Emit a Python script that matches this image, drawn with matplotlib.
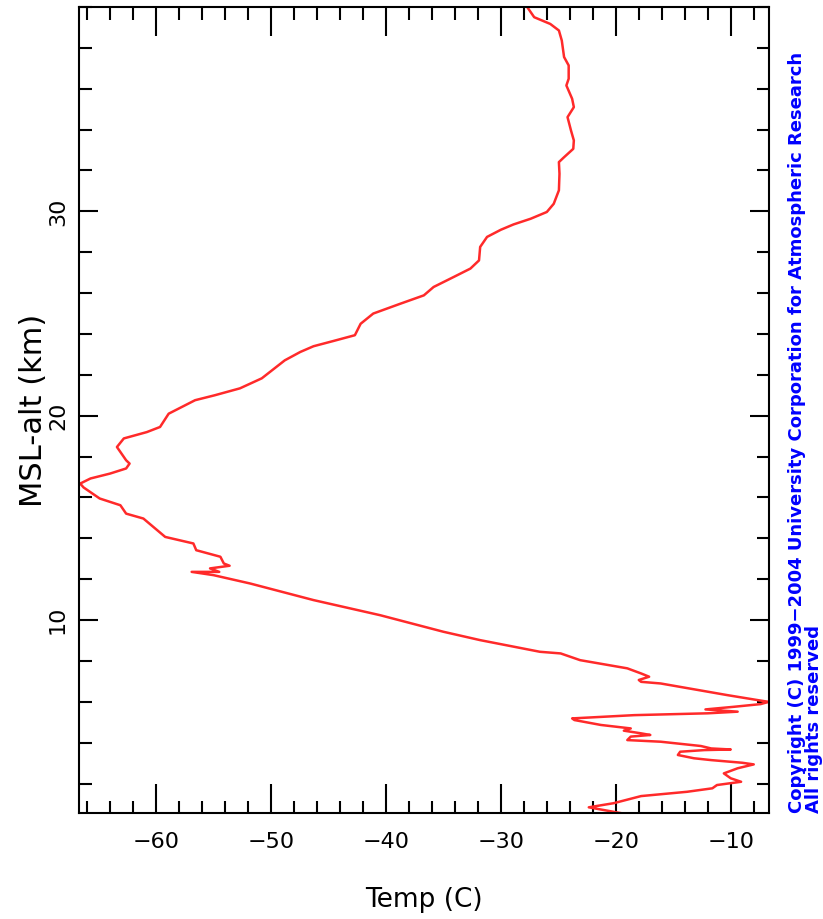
import matplotlib.pyplot as plt
from matplotlib.ticker import MultipleLocator, FixedLocator, FuncFormatter

# sounding profile, surface upward
alt_km = [0.56, 0.84, 0.92, 1.04, 1.39, 1.60, 1.77, 1.93, 2.09, 2.26, 2.50, 2.75,
          2.94, 3.02, 3.15, 3.24, 3.40, 3.56, 3.64, 3.67, 3.72, 3.84, 4.05, 4.13,
          4.30, 4.38, 4.46, 4.59, 4.70, 4.87, 5.11, 5.19, 5.35, 5.44, 5.52, 5.63,
          5.76, 5.89, 6.00, 6.09, 6.33, 6.90, 6.98, 7.07, 7.23, 7.39, 7.64, 8.04,
          8.37, 8.45, 9.02, 9.43, 10.24, 10.98, 11.79, 12.20, 12.36, 12.36, 12.53,
          12.66, 12.77, 13.10, 13.42, 13.75, 14.07, 14.97, 15.21, 15.62, 15.95,
          16.49, 16.68, 16.93, 17.17, 17.42, 17.66, 17.82, 18.47, 18.89, 19.20,
          19.45, 20.10, 20.76, 21.00, 21.34, 21.83, 22.71, 23.12, 23.40, 23.66,
          23.94, 24.50, 25.00, 25.48, 25.89, 26.30, 26.79, 27.20, 27.60, 28.26,
          28.75, 29.10, 29.36, 29.64, 29.97, 30.37, 31.03, 31.84, 32.41, 32.65,
          33.06, 33.47, 33.96, 34.61, 35.10, 35.51, 36.16, 36.49, 37.14, 37.55,
          38.36, 38.85, 39.17, 39.50, 39.99]
temp_c = [-19.6, -22.35, -21.5, -20.2, -17.8, -13.8, -11.6, -11.2, -9.1, -10.0, -10.6, -9.4,
          -8.0, -9.0, -11.7, -13.2, -14.6, -14.4, -12.3, -10.0, -11.7, -12.6, -16.1, -19.0,
          -18.7, -17.0, -17.8, -19.3, -18.7, -21.3, -23.6, -23.8, -18.4, -12.0, -9.4, -12.2,
          -9.7, -7.4, -6.7, -7.7, -10.3, -16.1, -17.8, -18.0, -17.1, -17.8, -19.0, -23.1,
          -24.8, -26.6, -31.8, -35.0, -40.5, -46.3, -51.8, -55.0, -56.9, -54.5, -55.3,
          -53.6, -54.1, -54.4, -56.5, -56.75, -59.2, -61.1, -62.6, -63.1, -64.9,
          -66.3, -66.6, -65.7, -64.0, -62.6, -62.3, -62.6, -63.4, -62.8, -60.8,
          -59.65, -58.9, -56.6, -54.9, -52.7, -50.8, -48.8, -47.45, -46.3, -44.55,
          -42.7, -42.2, -41.1, -38.75, -36.7, -35.85, -34.1, -32.65, -31.9, -31.8,
          -31.2, -30.0, -28.9, -27.4, -26.0, -25.4, -24.95, -24.9, -24.95, -24.5,
          -23.7, -23.65, -23.9, -24.2, -23.65, -23.8, -24.3, -24.1, -24.1, -24.5,
          -24.7, -24.95, -25.7, -27.1, -27.7]
x_major = [-60, -50, -40, -30, -20, -10]
y_major = [10, 20, 30]

fig = plt.figure(figsize=(8.23, 9.19), dpi=100)
ax = fig.add_axes([0.096, 0.1153, 0.838, 0.8771])

ax.plot(temp_c, alt_km, color='#ff2a2a', lw=1.8)

ax.set_xlim(-66.7, -6.7)
ax.set_ylim(0.56, 40)

ax.xaxis.set_major_locator(FixedLocator(x_major))
ax.xaxis.set_minor_locator(MultipleLocator(2))
ax.yaxis.set_major_locator(FixedLocator(y_major))
ax.yaxis.set_minor_locator(MultipleLocator(2))
ax.xaxis.set_major_formatter(FuncFormatter(lambda v, p: '\u2212%d' % abs(v) if v < 0 else '%d' % v))

for s in ax.spines.values():
    s.set_linewidth(1.5)

ax.tick_params(which='both', direction='in', top=True, right=True, width=1.5, color='black')
ax.tick_params(axis='x', which='major', length=21, pad=14)
ax.tick_params(axis='x', which='minor', length=9)
ax.tick_params(axis='y', which='major', length=14, pad=8)
ax.tick_params(axis='y', which='minor', length=9)

for lab in ax.get_xticklabels():
    lab.set_fontsize(16)
for lab in ax.get_yticklabels():
    lab.set_rotation(90)
    lab.set_va('center')
    lab.set_fontsize(16)

ax.set_xlabel('Temp (C)', fontsize=19)
ax.xaxis.set_label_coords(0.5, -0.092)
ax.set_ylabel('MSL-alt (km)', fontsize=22)
ax.yaxis.set_label_coords(-0.045, 0.5)

fig.text(0.979, 0.1153, 'Copyright (C) 1999\u22122004 University Corporation for Atmospheric Research\nAll rights reserved',
         rotation=90, color='blue', fontsize=13, fontweight='bold',
         ha='center', va='bottom', multialignment='left', linespacing=0.9)

fig.savefig('out.png', dpi=100)
